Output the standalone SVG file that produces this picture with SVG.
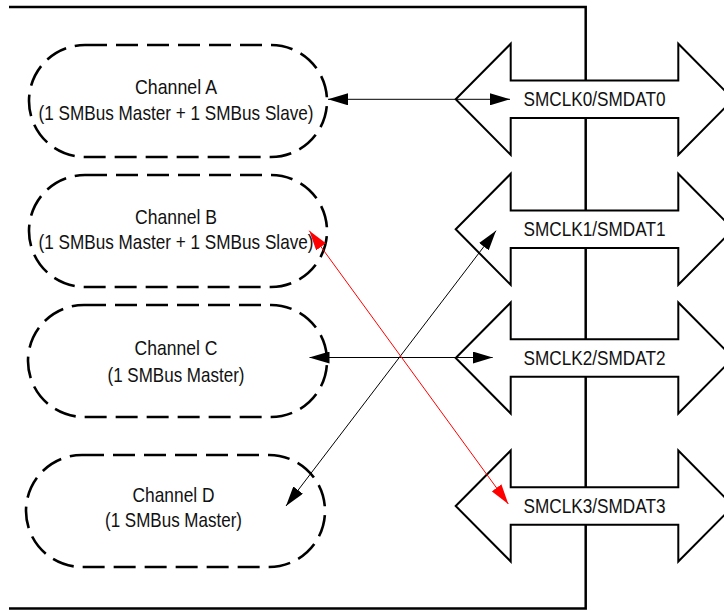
<svg xmlns="http://www.w3.org/2000/svg" width="724" height="610" viewBox="0 0 724 610">
<style>
.frame{fill:none;stroke:#000;stroke-width:2.5}
.bus{fill:#fff;stroke:#000;stroke-width:2;stroke-linejoin:miter}
.ch{fill:#fff;stroke:#000;stroke-width:2.6;stroke-dasharray:22 9}
.t{font-family:"Liberation Sans",Arial,sans-serif;font-size:21px;fill:#111;text-anchor:middle}
.c{fill:none;stroke:#000;stroke-width:1}
.cr{fill:none;stroke:#f00;stroke-width:1}
</style>
<defs>
<marker id="ah" markerUnits="userSpaceOnUse" markerWidth="20" markerHeight="12" refX="20" refY="6" orient="auto-start-reverse" viewBox="0 0 20 12">
<path d="M0,0 L20,6 L0,12 z" fill="#000"/>
</marker>
<marker id="ahr" markerUnits="userSpaceOnUse" markerWidth="20" markerHeight="12" refX="20" refY="6" orient="auto-start-reverse" viewBox="0 0 20 12">
<path d="M0,0 L20,6 L0,12 z" fill="#f00"/>
</marker>
<path id="dbl" d="M455.7,0 L510.7,-55.5 L510.7,-18.8 L678.3,-18.8 L678.3,-55.5 L733.3,0 L678.3,55.5 L678.3,18.8 L510.7,18.8 L510.7,55.5 Z"/>
</defs>
<g id="frame">
<path class="frame" d="M9,7 H585.7 V608.5 H9"/>
</g>
<g id="bus0"><use href="#dbl" class="bus" transform="translate(0,99.3)"/><text class="t" x="594.5" y="106.3" textLength="142" lengthAdjust="spacingAndGlyphs">SMCLK0/SMDAT0</text></g>
<g id="bus1"><use href="#dbl" class="bus" transform="translate(0,229.3)"/><text class="t" x="594.5" y="236.3" textLength="142" lengthAdjust="spacingAndGlyphs">SMCLK1/SMDAT1</text></g>
<g id="bus2"><use href="#dbl" class="bus" transform="translate(0,358)"/><text class="t" x="594.5" y="365.3" textLength="142" lengthAdjust="spacingAndGlyphs">SMCLK2/SMDAT2</text></g>
<g id="bus3"><use href="#dbl" class="bus" transform="translate(0,506)"/><text class="t" x="594.5" y="512.8" textLength="142" lengthAdjust="spacingAndGlyphs">SMCLK3/SMDAT3</text></g>
<g id="chA"><rect class="ch" x="29" y="45" width="298" height="112" rx="56" ry="56"/><text class="t" x="176" y="94.3" textLength="82" lengthAdjust="spacingAndGlyphs">Channel A</text><text class="t" x="176" y="120" textLength="275" lengthAdjust="spacingAndGlyphs">(1 SMBus Master + 1 SMBus Slave)</text></g>
<g id="chB"><rect class="ch" x="29" y="175" width="298" height="112" rx="56" ry="56"/><text class="t" x="176" y="223.5" textLength="82" lengthAdjust="spacingAndGlyphs">Channel B</text><text class="t" x="176" y="248.5" textLength="275" lengthAdjust="spacingAndGlyphs">(1 SMBus Master + 1 SMBus Slave)</text></g>
<g id="chC"><rect class="ch" x="28" y="305" width="299" height="112" rx="56" ry="56"/><text class="t" x="176" y="355" textLength="83" lengthAdjust="spacingAndGlyphs">Channel C</text><text class="t" x="176" y="381.5" textLength="137" lengthAdjust="spacingAndGlyphs">(1 SMBus Master)</text></g>
<g id="chD"><rect class="ch" x="26" y="455" width="299" height="112" rx="56" ry="56"/><text class="t" x="173.5" y="501.7" textLength="82" lengthAdjust="spacingAndGlyphs">Channel D</text><text class="t" x="173.5" y="526.7" textLength="137" lengthAdjust="spacingAndGlyphs">(1 SMBus Master)</text></g>
<g id="connectors">
<line class="c" x1="328" y1="99.3" x2="510" y2="99.3" marker-start="url(#ah)" marker-end="url(#ah)"/>
<line class="c" x1="309.5" y1="357.5" x2="492.7" y2="357.5" marker-start="url(#ah)" marker-end="url(#ah)"/>
<line class="c" x1="286" y1="506" x2="496" y2="230.7" marker-start="url(#ah)" marker-end="url(#ah)"/>
<line class="cr" x1="309.3" y1="230.7" x2="508.3" y2="504" marker-start="url(#ahr)" marker-end="url(#ahr)"/>
</g>
</svg>
